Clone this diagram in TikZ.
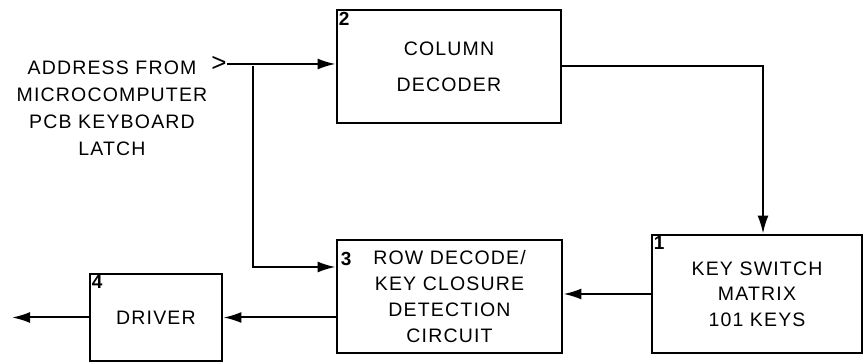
\documentclass[tikz,border=0pt]{standalone}
\usepackage{fontspec}
\setmainfont{Liberation Sans}[LetterSpace=6]
\usetikzlibrary{arrows.meta}

\begin{document}
\begin{tikzpicture}[
  x=1pt, y=-1pt,
  every node/.style={inner sep=1pt},
  block/.style={draw, line width=2.8pt, inner sep=0pt, align=center,
    font=\fontsize{19.5}{25.7}\selectfont},
  num/.style={anchor=north west, inner sep=0pt, font=\fontsize{19}{19}\selectfont\bfseries},
  lbl/.style={align=center, font=\fontsize{19.5}{27}\selectfont},
  arrow/.style={draw, line width=2pt, -{Latex[length=18pt, width=11pt]}}]

  \useasboundingbox (0,0) rectangle (865,363);

  % ---- the four blocks ----------------------------------------------------
  \node[block, minimum width=224pt, minimum height=113pt] (col) at (449,66.5)
    {COLUMN\\[10pt]DECODER};
  \node[block, minimum width=225pt, minimum height=113pt] (row) at (449.5,296.5)
    {ROW DECODE/\\KEY CLOSURE\\DETECTION\\CIRCUIT};
  \node[block, minimum width=210pt, minimum height=118pt] (keys) at (757,294)
    {KEY SWITCH\\MATRIX\\101 KEYS};
  \node[block, minimum width=132pt, minimum height=87pt] (drv) at (156,317.5)
    {DRIVER};

  % ---- block numbers, in the top left corners -----------------------------
  \node[num] (n2) at ([shift={(3pt,-3pt)}]col.north west) {2};
  \node[num] (n3) at ([shift={(5pt,-13pt)}]row.north west) {3};
  \node[num] (n1) at ([shift={(3pt,-3pt)}]keys.north west) {1};
  \node[num] (n4) at ([shift={(3pt,-3pt)}]drv.north west) {4};

  % ---- the address input --------------------------------------------------
  \node[lbl] (addr) at (112,108)
    {ADDRESS FROM\\MICROCOMPUTER\\PCB KEYBOARD\\LATCH};
  \node[inner sep=0pt, font=\fontsize{26}{26}\selectfont] (gt) at (219,64) {>};
  \coordinate (j) at (253,66);

  % ---- connectors ---------------------------------------------------------
  \draw[arrow] (gt.east) -- (gt.east -| col.west);
  \draw[arrow] (j) |- ([yshift=29.5pt]row.west);
  \draw[arrow] (col.east) -| ([xshift=6pt]keys.north);
  \draw[arrow] (keys.west) -- (keys.west -| row.east);
  \draw[arrow] (drv.east -| row.west) -- (drv.east);
  \coordinate (out) at (12,317.5);
  \draw[arrow] (drv.west) -- (out);
\end{tikzpicture}
\end{document}
